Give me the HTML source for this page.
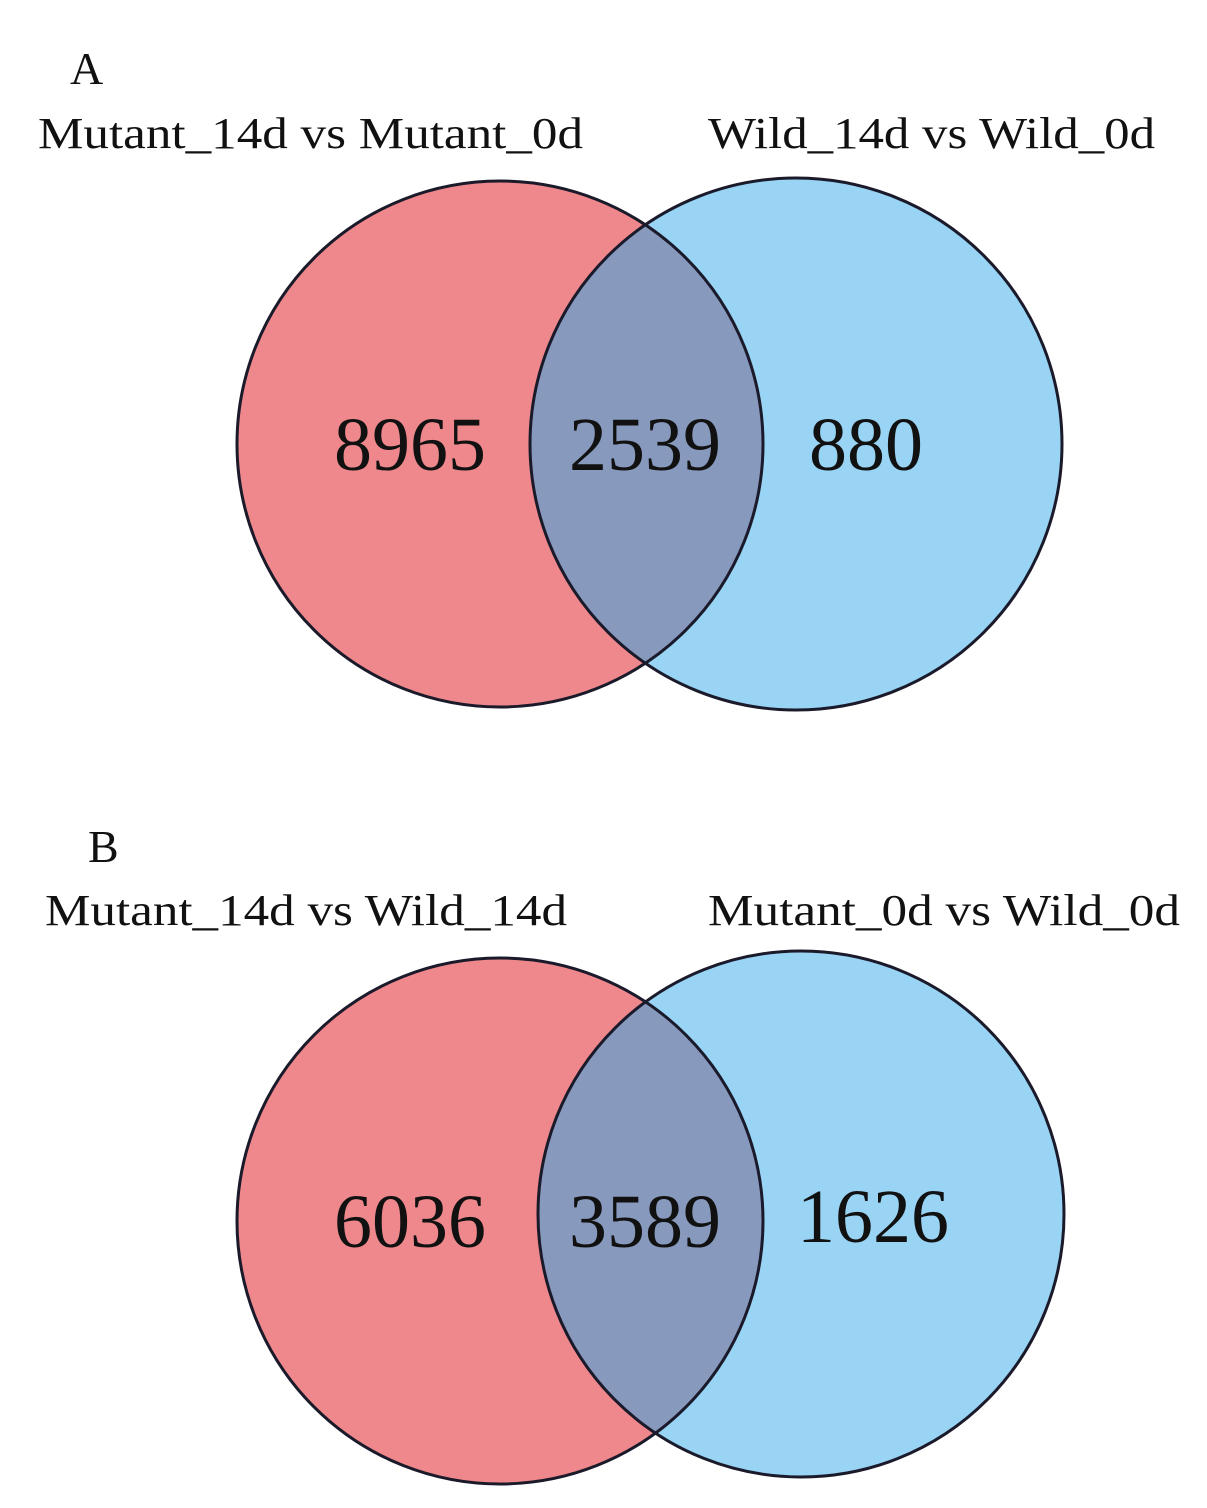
<!DOCTYPE html>
<html><head><style>body{margin:0;background:#fff}svg{display:block}</style></head>
<body>
<svg width="1207" height="1508" viewBox="0 0 1207 1508" xmlns="http://www.w3.org/2000/svg" font-family="Liberation Serif, serif" fill="#111">
<defs>
<clipPath id="ca"><circle cx="500" cy="444" r="263"/></clipPath>
<clipPath id="cb"><circle cx="500" cy="1221" r="263"/></clipPath>
</defs>
<text x="70" y="84" font-size="46">A</text>
<text x="38" y="148" font-size="44" textLength="545" lengthAdjust="spacingAndGlyphs">Mutant_14d vs Mutant_0d</text>
<text x="708" y="148" font-size="44" textLength="447" lengthAdjust="spacingAndGlyphs">Wild_14d vs Wild_0d</text>
<circle cx="500" cy="444" r="263" fill="#ef888c"/>
<circle cx="796" cy="444" r="266" fill="#99d4f5"/>
<circle cx="796" cy="444" r="266" fill="#8799bd" clip-path="url(#ca)"/>
<circle cx="500" cy="444" r="263" fill="none" stroke="#1a1a2a" stroke-width="3"/>
<circle cx="796" cy="444" r="266" fill="none" stroke="#1a1a2a" stroke-width="3"/>
<g font-size="76" text-anchor="middle">
<text x="410" y="470">8965</text><text x="645" y="470">2539</text><text x="866" y="470">880</text>
</g>
<text x="88" y="862" font-size="46">B</text>
<text x="45" y="925" font-size="44" textLength="522" lengthAdjust="spacingAndGlyphs">Mutant_14d vs Wild_14d</text>
<text x="708" y="925" font-size="44" textLength="472" lengthAdjust="spacingAndGlyphs">Mutant_0d vs Wild_0d</text>
<circle cx="500" cy="1221" r="263" fill="#ef888c"/>
<circle cx="801" cy="1214" r="263" fill="#99d4f5"/>
<circle cx="801" cy="1214" r="263" fill="#8799bd" clip-path="url(#cb)"/>
<circle cx="500" cy="1221" r="263" fill="none" stroke="#1a1a2a" stroke-width="3"/>
<circle cx="801" cy="1214" r="263" fill="none" stroke="#1a1a2a" stroke-width="3"/>
<g font-size="76" text-anchor="middle">
<text x="410" y="1247">6036</text><text x="645" y="1247">3589</text><text x="873" y="1242">1626</text>
</g>
</svg>
</body></html>
